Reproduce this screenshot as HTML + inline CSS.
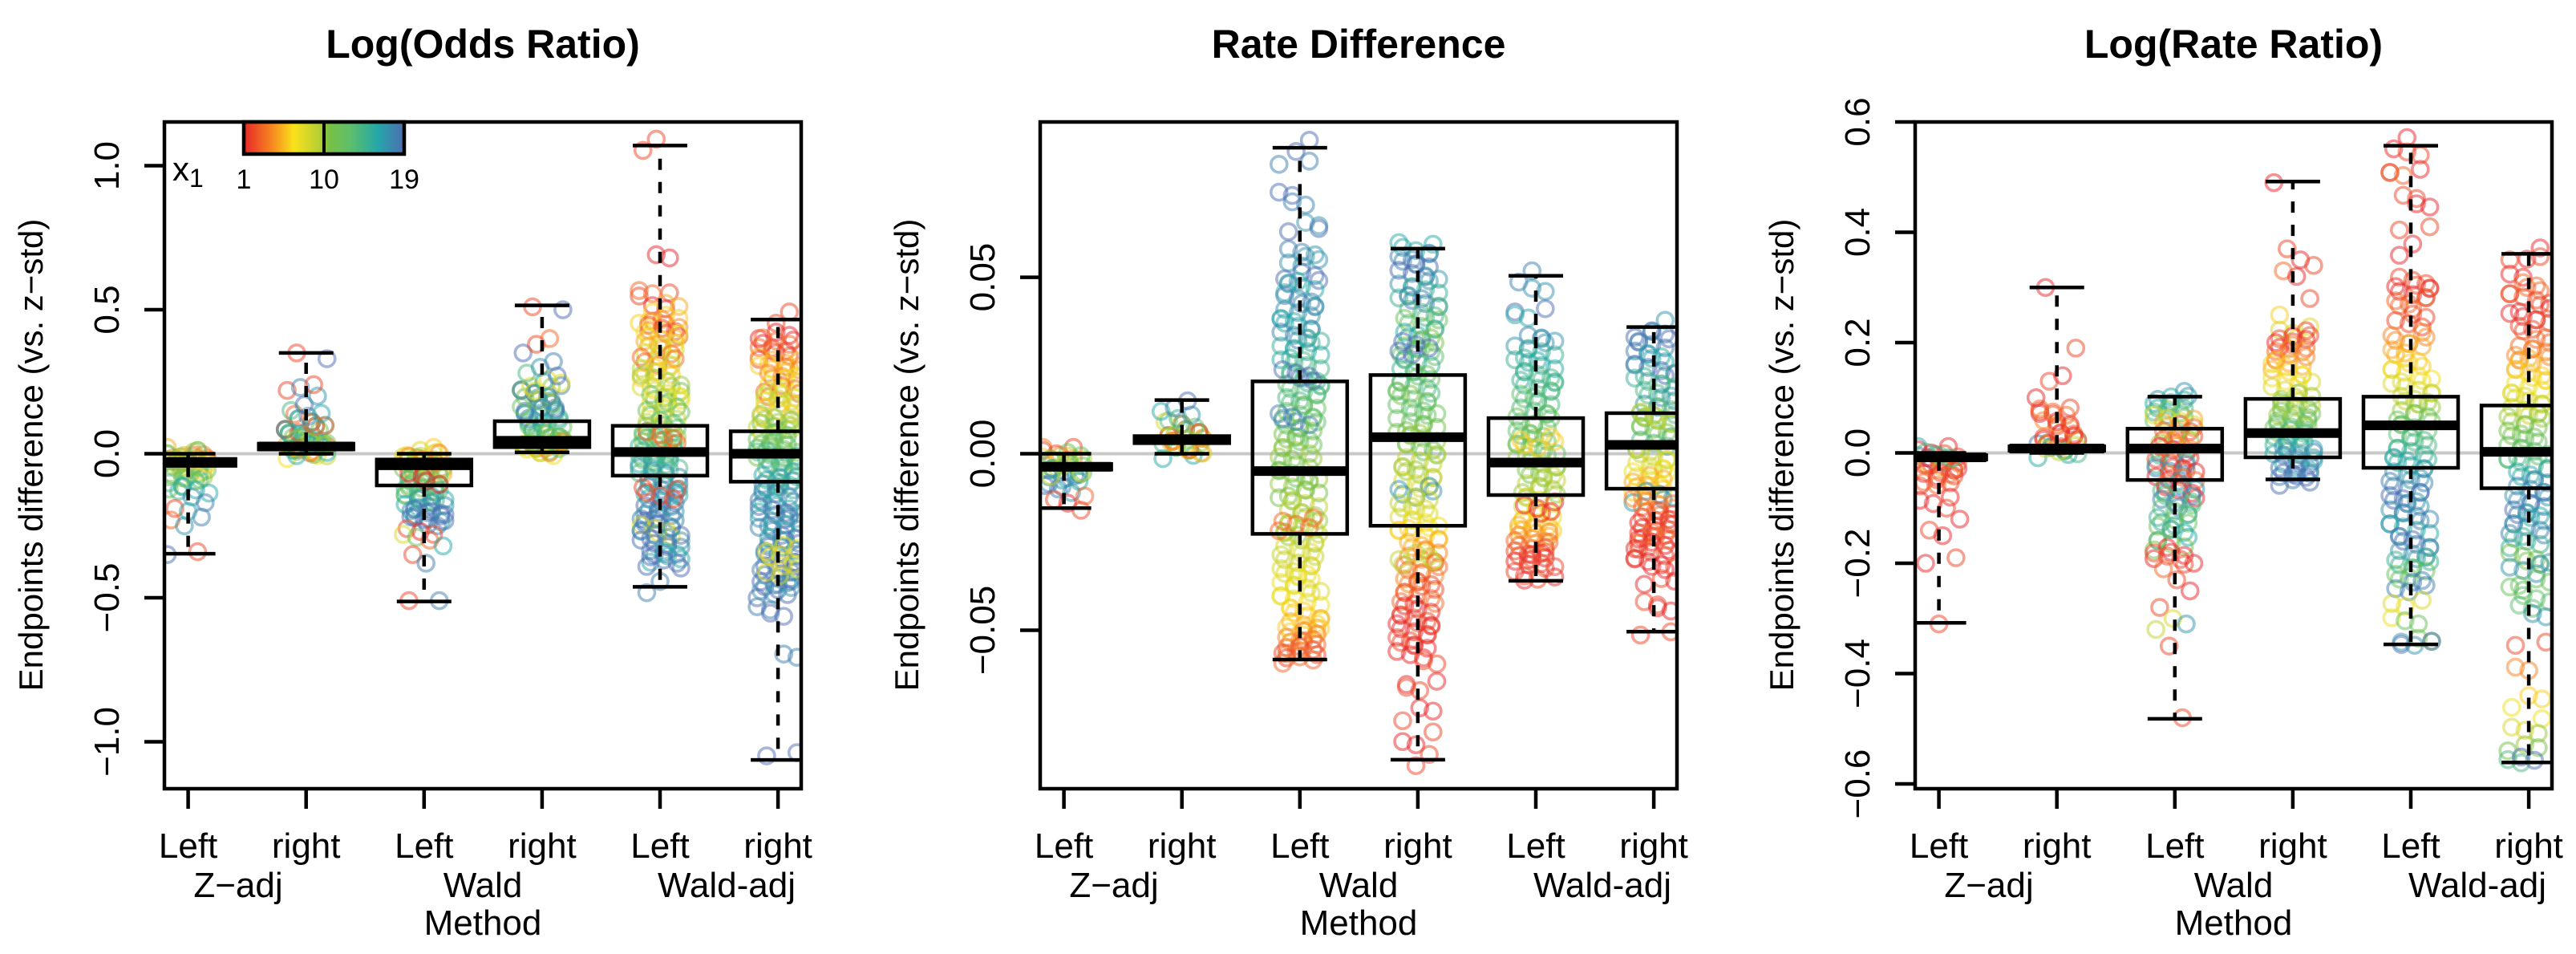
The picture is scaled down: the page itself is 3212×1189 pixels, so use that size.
<!DOCTYPE html>
<html><head><meta charset="utf-8"><style>
html,body{margin:0;padding:0;background:#fff}
svg{display:block}
text{font-family:"Liberation Sans",Arial,sans-serif;fill:#000}
</style></head><body>
<svg id="chart" width="3212" height="1189" viewBox="0 0 3212 1189" xmlns="http://www.w3.org/2000/svg"></svg>
<script>
// ---------- data ----------
const categories = ["Left","right","Left","right","Left","right"];
const methodGroups = ["Z\u2212adj","Wald","Wald-adj"];
const panelTitles = ["Log(Odds Ratio)","Rate Difference","Log(Rate Ratio)"];
const tickLabelsP1 = ["\u22121.0","\u22120.5","0.0","0.5","1.0"];
const tickValuesP1 = [-1,-0.5,0,0.5,1];
const tickLabelsP2 = ["\u22120.05","0.00","0.05"];
const tickValuesP2 = [-0.05,0,0.05];
const tickLabelsP3 = ["\u22120.6","\u22120.4","\u22120.2","0.0","0.2","0.4","0.6"];
const tickValuesP3 = [-0.6,-0.4,-0.2,0,0.2,0.4,0.6];
// box stats per group: [lowWhisker, q1, median, q3, highWhisker]
const boxP1 = [[-0.347,-0.042,-0.03,-0.018,0],[0,0.015,0.025,0.035,0.35],[-0.513,-0.11,-0.04,-0.02,0],[0.005,0.023,0.045,0.113,0.515],[-0.462,-0.076,0.006,0.097,1.07],[-1.063,-0.097,0,0.078,0.466]];
const boxP2 = [[-0.0154,-0.0045,-0.0037,-0.0029,0],[0,0.003,0.004,0.005,0.0152],[-0.0583,-0.0227,-0.0049,0.0205,0.0867],[-0.0867,-0.0204,0.0047,0.0223,0.0581],[-0.036,-0.0117,-0.0025,0.0101,0.0504],[-0.0504,-0.0099,0.0025,0.0115,0.0359]];
const boxP3 = [[-0.308,-0.012,-0.008,-0.004,0],[0,0.004,0.008,0.012,0.30],[-0.482,-0.049,0.008,0.044,0.102],[-0.048,-0.008,0.036,0.098,0.492],[-0.347,-0.027,0.05,0.102,0.557],[-0.561,-0.064,0.002,0.086,0.361]];
// points: value:colorIndex(1..19)
const ptsP1 = [
"0:5 -0.01:7 -0.02:9 -0.03:11 -0.01:3 -0.04:12 -0.05:8 -0.06:10 -0.02:4 -0.07:13 -0.08:12 -0.09:14 -0.1:11 -0.12:16 -0.13:15 -0.15:17 -0.17:18 -0.19:2 -0.2:16 -0.22:18 -0.23:3 -0.25:17 -0.34:2 -0.35:19 0:14 -0.01:10 -0.03:6",
"0:7 0.01:5 0.015:9 0.02:11 0.02:3 0.025:13 0.03:8 0.035:15 0.04:12 0.05:14 0.06:11 0.07:16 0.08:13 0.09:2 0.1:17 0.11:15 0.12:3 0.13:18 0.14:16 0.15:14 0.17:19 0.2:17 0.22:2 0.23:18 0.24:2 0.33:19 0.35:2 0.01:16 0.03:10",
"0:6 -0.01:8 -0.02:9 -0.03:11 -0.04:7 -0.05:10 -0.06:12 -0.07:5 -0.08:13 -0.1:11 -0.11:14 -0.12:12 -0.14:15 -0.15:13 -0.17:16 -0.18:17 -0.2:18 -0.21:19 -0.22:17 -0.23:19 -0.25:18 -0.26:2 -0.27:1 -0.28:2 -0.28:8 -0.29:12 -0.3:3 -0.32:16 -0.35:2 -0.38:18 -0.51:18 -0.51:2 -0.09:1 -0.02:4",
"0.01:7 0.02:9 0.03:11 0.04:6 0.05:10 0.06:8 0.07:12 0.08:13 0.1:14 0.12:15 0.14:18 0.15:16 0.17:19 0.18:12 0.2:17 0.21:10 0.22:18 0.24:8 0.25:16 0.27:19 0.28:14 0.3:17 0.32:18 0.35:19 0.38:2 0.4:3 0.5:19 0.51:2 0.02:4 0.04:13",
"1.07:2 0.68:1 0.57:2 0.55:3 0.52:1 0.5:5 0.47:6 0.45:4 0.43:2 0.4:7 0.38:5 0.35:8 0.33:3 0.3:9 0.28:6 0.25:10 0.22:8 0.2:11 0.18:7 0.15:12 0.12:9 0.1:13 0.08:10 0.05:14 0.03:11 0.01:15 -0.01:13 -0.03:16 -0.05:14 -0.07:17 -0.1:15 -0.12:18 -0.15:16 -0.18:19 -0.2:17 -0.22:18 -0.25:19 -0.27:8 -0.28:17 -0.3:19 -0.33:18 -0.36:16 -0.38:19 -0.46:18 0.06:3 -0.14:2",
"0.47:2 0.4:1 0.38:3 0.35:2 0.32:5 0.3:6 0.28:4 0.25:7 0.22:3 0.2:8 0.18:9 0.15:6 0.12:10 0.1:11 0.08:9 0.05:12 0.03:13 0.01:11 -0.01:14 -0.03:15 -0.05:13 -0.08:16 -0.1:17 -0.12:15 -0.15:18 -0.18:16 -0.2:19 -0.23:17 -0.25:18 -0.28:16 -0.3:19 -0.33:17 -0.36:18 -0.4:19 -0.42:18 -0.45:19 -0.47:17 -0.5:19 -0.52:18 -0.57:19 -0.69:18 -1.06:19 -0.34:7 -0.4:8"];
const ptsP2 = [
"0:4 0:2 -0.001:6 -0.002:9 -0.003:11 -0.004:13 -0.005:15 -0.006:16 -0.007:17 -0.008:18 -0.009:19 -0.01:18 -0.011:17 -0.012:3 -0.013:2 -0.014:1 -0.016:2 -0.001:12 -0.005:8",
"0:16 0.001:14 0.002:9 0.003:1 0.004:7 0.005:3 0.006:11 0.007:2 0.008:13 0.009:8 0.01:15 0.011:17 0.012:16 0.013:18 0.015:19 0.004:10 0.002:5",
"0.087:19 0.082:18 0.075:19 0.07:18 0.066:17 0.062:19 0.058:18 0.055:17 0.05:19 0.047:16 0.043:18 0.04:17 0.037:16 0.034:18 0.031:15 0.028:16 0.025:14 0.021:15 0.018:13 0.015:14 0.012:12 0.009:13 0.006:11 0.003:12 0:10 -0.003:11 -0.006:12 -0.009:10 -0.012:11 -0.015:9 -0.018:10 -0.021:9 -0.024:10 -0.027:8 -0.03:9 -0.033:8 -0.036:7 -0.039:8 -0.042:7 -0.045:6 -0.048:5 -0.05:6 -0.052:4 -0.054:3 -0.056:2 -0.058:3 0.022:19 -0.02:3 0.01:18",
"0.058:16 0.055:18 0.052:19 0.049:17 0.046:15 0.043:18 0.04:14 0.037:12 0.034:16 0.031:11 0.028:13 0.025:15 0.022:12 0.019:14 0.016:11 0.013:13 0.01:12 0.007:11 0.004:10 0.001:12 -0.002:9 -0.005:10 -0.008:8 -0.011:17 -0.014:9 -0.017:8 -0.02:7 -0.023:6 -0.026:5 -0.029:4 -0.032:3 -0.035:4 -0.038:2 -0.041:3 -0.044:1 -0.047:2 -0.05:1 -0.053:2 -0.056:1 -0.06:2 -0.064:1 -0.068:2 -0.072:1 -0.077:2 -0.082:1 -0.087:2 -0.03:9 0.03:19",
"0.05:18 0.046:17 0.042:19 0.038:16 0.034:18 0.031:17 0.028:15 0.025:16 0.022:14 0.019:15 0.016:13 0.013:14 0.01:12 0.007:13 0.004:11 0.001:12 -0.002:10 -0.005:11 -0.008:9 -0.011:10 -0.014:8 -0.017:7 -0.02:6 -0.022:5 -0.024:4 -0.026:3 -0.028:2 -0.03:1 -0.032:2 -0.034:1 -0.036:2 -0.015:1 0.003:6",
"0.036:17 0.033:19 0.03:18 0.027:16 0.024:19 0.021:15 0.018:14 0.015:17 0.012:13 0.009:12 0.006:11 0.003:14 0:9 -0.003:8 -0.006:7 -0.008:5 -0.01:6 -0.012:17 -0.014:4 -0.016:3 -0.018:2 -0.02:1 -0.022:2 -0.024:3 -0.026:1 -0.028:2 -0.031:1 -0.034:2 -0.037:1 -0.041:2 -0.045:1 -0.05:2 0.01:9"];
const ptsP3 = [
"0:16 0:1 -0.005:18 -0.01:2 -0.015:3 -0.02:1 -0.025:5 -0.03:2 -0.04:1 -0.05:3 -0.06:2 -0.08:1 -0.1:2 -0.12:1 -0.14:2 -0.15:1 -0.19:2 -0.2:1 -0.31:2 -0.01:14",
"0:16 0.005:18 0.01:14 0.015:12 0.02:2 0.025:3 0.03:1 0.04:2 0.05:4 0.06:1 0.07:2 0.08:3 0.1:1 0.13:2 0.14:1 0.19:2 0.3:1 0.005:9",
"0.1:17 0.09:16 0.08:14 0.07:12 0.06:8 0.05:5 0.04:3 0.03:2 0.02:10 0.01:4 0:1 -0.01:15 -0.02:2 -0.03:18 -0.04:1 -0.05:3 -0.06:17 -0.07:1 -0.08:14 -0.09:18 -0.1:13 -0.12:15 -0.13:12 -0.15:16 -0.17:11 -0.18:1 -0.19:2 -0.2:1 -0.21:3 -0.23:2 -0.25:1 -0.28:2 -0.3:8 -0.31:17 -0.32:9 -0.35:2 -0.48:2",
"0.49:1 0.37:2 0.35:1 0.34:2 0.33:3 0.32:1 0.28:2 0.25:6 0.22:8 0.21:2 0.2:1 0.19:3 0.18:4 0.16:5 0.15:6 0.13:7 0.12:8 0.1:10 0.09:9 0.08:11 0.07:12 0.06:10 0.05:13 0.04:11 0.03:14 0.02:15 0.01:16 0:17 -0.01:18 -0.02:16 -0.03:19 -0.04:18 -0.05:19",
"0.56:1 0.54:2 0.52:1 0.5:3 0.47:2 0.44:1 0.41:2 0.37:1 0.31:2 0.29:1 0.27:3 0.24:2 0.21:4 0.19:5 0.16:6 0.14:7 0.12:8 0.1:9 0.08:10 0.06:12 0.04:13 0.02:14 0:15 -0.02:16 -0.04:17 -0.06:18 -0.08:19 -0.1:17 -0.12:18 -0.14:16 -0.16:19 -0.18:17 -0.2:15 -0.22:12 -0.24:18 -0.27:8 -0.29:7 -0.31:12 -0.33:11 -0.35:19 -0.34:17",
"0.36:1 0.35:2 0.33:1 0.3:3 0.28:2 0.25:1 0.23:2 0.2:3 0.18:4 0.16:5 0.14:6 0.12:7 0.1:8 0.08:9 0.06:10 0.04:11 0.02:12 0:13 -0.02:14 -0.04:16 -0.06:18 -0.08:17 -0.1:19 -0.12:16 -0.14:18 -0.16:15 -0.19:11 -0.21:17 -0.24:12 -0.27:13 -0.3:17 -0.34:2 -0.4:4 -0.44:6 -0.47:7 -0.5:8 -0.52:10 -0.54:11 -0.55:14 -0.56:19"];
// number of overlapping observations each listed value represents near the box (tails use fewer)
const multP1 = [3,3,4,4,5,5];
const multP2 = [3,3,5,5,5,5];
const multP3 = [3,3,4,4,5,5];
const colorbarLabels = ["1","10","19"];
const colorbarValues = [1,10,19];

// ---------- layout ----------
const NS="http://www.w3.org/2000/svg";
const svg=document.getElementById('chart');
const stops=[[1,[232,38,42]],[4,[245,130,32]],[6.6,[250,225,26]],[9.5,[181,207,52]],[10.5,[122,193,67]],[13,[92,190,108]],[16,[37,167,168]],[19,[78,109,179]]];
function col(c){
  for(let i=0;i<stops.length-1;i++){const a=stops[i],b=stops[i+1];
    if(c<=b[0]){const t=Math.max(0,(c-a[0])/(b[0]-a[0]));
      return 'rgb('+a[1].map((v,k)=>Math.round(v+(b[1][k]-v)*t)).join(',')+')';}}
  return 'rgb(78,109,179)';
}
function mk(tag,attrs,parent){const e=document.createElementNS(NS,tag);for(const k in attrs)e.setAttribute(k,attrs[k]);(parent||svg).appendChild(e);return e;}
const TOP=152,BOT=983,W=794;
const panels=[
 {left:205,dom:[-1.163,1.152],ticks:tickValuesP1,labels:tickLabelsP1,box:boxP1,pts:ptsP1,mult:multP1},
 {left:1297,dom:[-0.0949,0.094],ticks:tickValuesP2,labels:tickLabelsP2,box:boxP2,pts:ptsP2,mult:multP2},
 {left:2388,dom:[-0.6087,0.6],ticks:tickValuesP3,labels:tickLabelsP3,box:boxP3,pts:ptsP3,mult:multP3}];

panels.forEach((p,pi)=>{
  const g=mk('g',{});
  
  
  const L=p.left,R=L+W;
  const y=v=>BOT-(v-p.dom[0])/(p.dom[1]-p.dom[0])*(BOT-TOP);
  const x=i=>L+29.6+147.1*i;
  const cp=mk('clipPath',{id:'clip'+pi},g);
  mk('rect',{x:L,y:TOP,width:W,height:BOT-TOP},cp);
  const plot=mk('g',{'clip-path':'url(#clip'+pi+')'},g);
  const zl=mk('line',{x1:L,x2:R,y1:y(0),y2:y(0),stroke:'#c8c8c8','stroke-width':4},plot);
  
  
  // points
  p.pts.forEach((s,gi)=>{
    const b=p.box[gi];
    const span=(b[4]-b[0]);
    s.split(' ').forEach((tok,i)=>{
      const [v,c]=tok.split(':').map(Number);
      const lo=b[1]-0.25*span, hi=b[3]+0.25*span;
      const m=(v>=lo&&v<=hi)?p.mult[gi]:Math.max(1,Math.round(p.mult[gi]/3));
      for(let k=0;k<m;k++){
        const h=(i*7919+gi*31+k*4271)%23;
        const j=(h-11)/11*26;
        const dy=m>1?(((i*13+k*7)%9)-4)*2:0;
        const pt=mk('circle',{cx:x(gi)+j,cy:y(v)+dy,r:10,fill:'none',stroke:col(c),'stroke-width':3.6,'stroke-opacity':0.5},plot);
        
        
      }
    });
  });
  // boxes
  p.box.forEach((b,gi)=>{
    const cx=x(gi),hw=59,cw=34;
    const bg=mk('g',{stroke:'#000','stroke-width':4.5,fill:'none'},plot);
    
    
    mk('line',{x1:cx,x2:cx,y1:y(b[3]),y2:y(b[4]),'stroke-dasharray':'14 15'},bg);
    mk('line',{x1:cx,x2:cx,y1:y(b[1]),y2:y(b[0]),'stroke-dasharray':'14 15'},bg);
    mk('line',{x1:cx-cw,x2:cx+cw,y1:y(b[4]),y2:y(b[4])},bg);
    mk('line',{x1:cx-cw,x2:cx+cw,y1:y(b[0]),y2:y(b[0])},bg);
    mk('rect',{x:cx-hw,y:y(b[3]),width:2*hw,height:Math.max(0.5,y(b[1])-y(b[3]))},bg);
    mk('line',{x1:cx-hw,x2:cx+hw,y1:y(b[2]),y2:y(b[2]),'stroke-width':12},bg);
  });
  // frame
  const fr=mk('rect',{x:L,y:TOP,width:W,height:BOT-TOP,fill:'none',stroke:'#000','stroke-width':4.5},g);
  
  
  // y axis
  p.ticks.forEach((t,i)=>{
    mk('line',{x1:L-25,x2:L,y1:y(t),y2:y(t),stroke:'#000','stroke-width':4.5},g);
    const tl=mk('text',{x:0,y:0,'font-size':44,'text-anchor':'middle',transform:'translate('+(L-57)+','+y(t)+') rotate(-90)'},g);
    tl.textContent=p.labels[i];
    
    
  });
  const yl=mk('text',{x:0,y:0,'font-size':42,'text-anchor':'middle',transform:'translate('+(L-152)+',567) rotate(-90)'},g);
  yl.textContent='Endpoints difference (vs. z\u2212std)';
  
  
  // x axis
  categories.forEach((c,i)=>{
    mk('line',{x1:x(i),x2:x(i),y1:BOT,y2:BOT+25,stroke:'#000','stroke-width':4.5},g);
    const tl=mk('text',{x:x(i),y:1069,'font-size':44,'text-anchor':'middle'},g);
    tl.textContent=c;
    
    
  });
  const gx=[92,397,701];
  methodGroups.forEach((m,i)=>{
    const t=mk('text',{x:L+gx[i],y:1118,'font-size':44,'text-anchor':'middle'},g);
    t.textContent=m;
    
    
  });
  const xt=mk('text',{x:L+397,y:1165,'font-size':44,'text-anchor':'middle'},g);
  xt.textContent='Method';
  
  
  const tt=mk('text',{x:L+W/2,y:72,'font-size':50,'font-weight':'bold','text-anchor':'middle'},g);
  tt.textContent=panelTitles[pi];
  
  
});

// colorbar legend (panel 1)
const lg=mk('g',{});


const defs=mk('defs',{},lg);
const grad=mk('linearGradient',{id:'cbgrad',x1:0,x2:1,y1:0,y2:0},defs);
stops.forEach(s=>mk('stop',{offset:((s[0]-1)/18),'stop-color':col(s[0])},grad));
const cbL=304,cbR=504,cbT=152,cbB=192;
mk('rect',{x:cbL,y:cbT,width:cbR-cbL,height:cbB-cbT,fill:'url(#cbgrad)',stroke:'#000','stroke-width':4.5},lg);
const cbx=v=>cbL+(v-1)/18*(cbR-cbL);
mk('line',{x1:cbx(10),x2:cbx(10),y1:cbT,y2:cbB,stroke:'#000','stroke-width':4},lg);
colorbarValues.forEach((v,i)=>{
  const t=mk('text',{x:cbx(v),y:235,'font-size':34,'text-anchor':'middle'},lg);
  t.textContent=colorbarLabels[i];
  
  
});
const xl=mk('text',{x:215,y:225,'font-size':42},lg);
xl.textContent='x';


const xs=mk('tspan',{'font-size':32,dy:8},xl);
xs.textContent='1';
</script>
</body></html>
